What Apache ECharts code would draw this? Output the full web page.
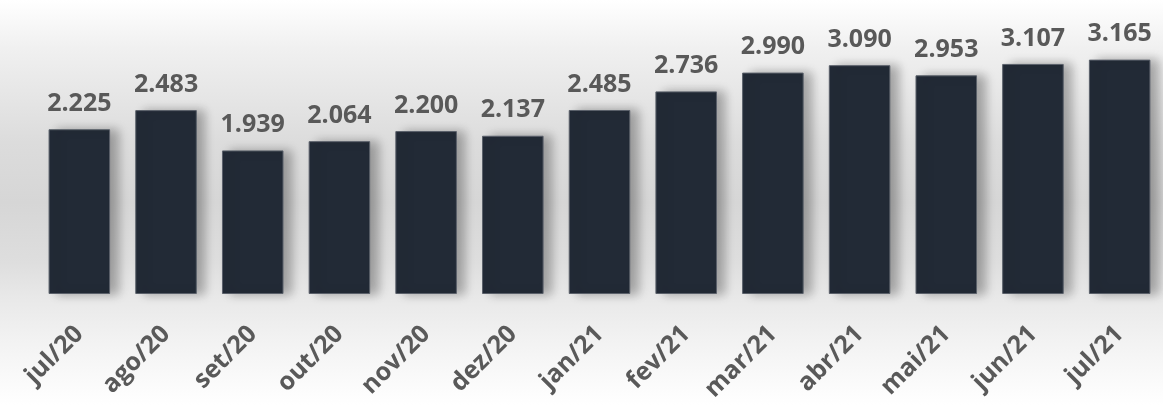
<!DOCTYPE html>
<html>
<head>
<meta charset="utf-8">
<script src="https://cdn.jsdelivr.net/npm/echarts@6/dist/echarts.min.js"></script>
<style>
html,body{margin:0;padding:0;}
body{width:1163px;height:405px;background:linear-gradient(to bottom,#ffffff 0%,#f0f0f0 12%,#dcdcdc 35%,#d6d6d6 50%,#dedede 65%,#e8e8e8 73%,#f3f3f3 85%,#ffffff 100%);}
#c{width:1163px;height:405px;}
</style>
</head>
<body>
<div id="c"></div>
<script>
const categories = ['jul/20','ago/20','set/20','out/20','nov/20','dez/20','jan/21','fev/21','mar/21','abr/21','mai/21','jun/21','jul/21'];
const values = [2225, 2483, 1939, 2064, 2200, 2137, 2485, 2736, 2990, 3090, 2953, 3107, 3165];

const chart = echarts.init(document.getElementById('c'));
chart.setOption({
  backgroundColor: 'transparent',
  animation: false,
  grid: {left: 36, right: -10, top: 20, bottom: 111, containLabel: false},
  xAxis: {
    type: 'category',
    data: categories,
    axisLine: {show: false},
    axisTick: {show: false},
    axisLabel: {
      rotate: 45,
      margin: 36,
      color: '#595959',
      fontFamily: 'Open Sans',
      fontWeight: 'bold',
      fontSize: 25
    }
  },
  yAxis: {
    type: 'value',
    min: 0,
    max: 3700,
    show: false,
    splitLine: {show: false}
  },
  series: [{
    type: 'bar',
    data: values,
    barCategoryGap: '29%',
    itemStyle: {
      color: '#222a36',
      borderColor: '#5a606a',
      borderWidth: 1,
      shadowColor: 'rgba(0,0,0,0.3)',
      shadowBlur: 10,
      shadowOffsetX: 8,
      shadowOffsetY: 0
    },
    label: {
      show: true,
      position: 'top',
      distance: 13,
      color: '#595959',
      fontFamily: 'Open Sans',
      fontWeight: 'bold',
      fontSize: 25,
      formatter: p => p.value.toLocaleString('pt-BR')
    }
  }]
});
</script>
</body>
</html>
